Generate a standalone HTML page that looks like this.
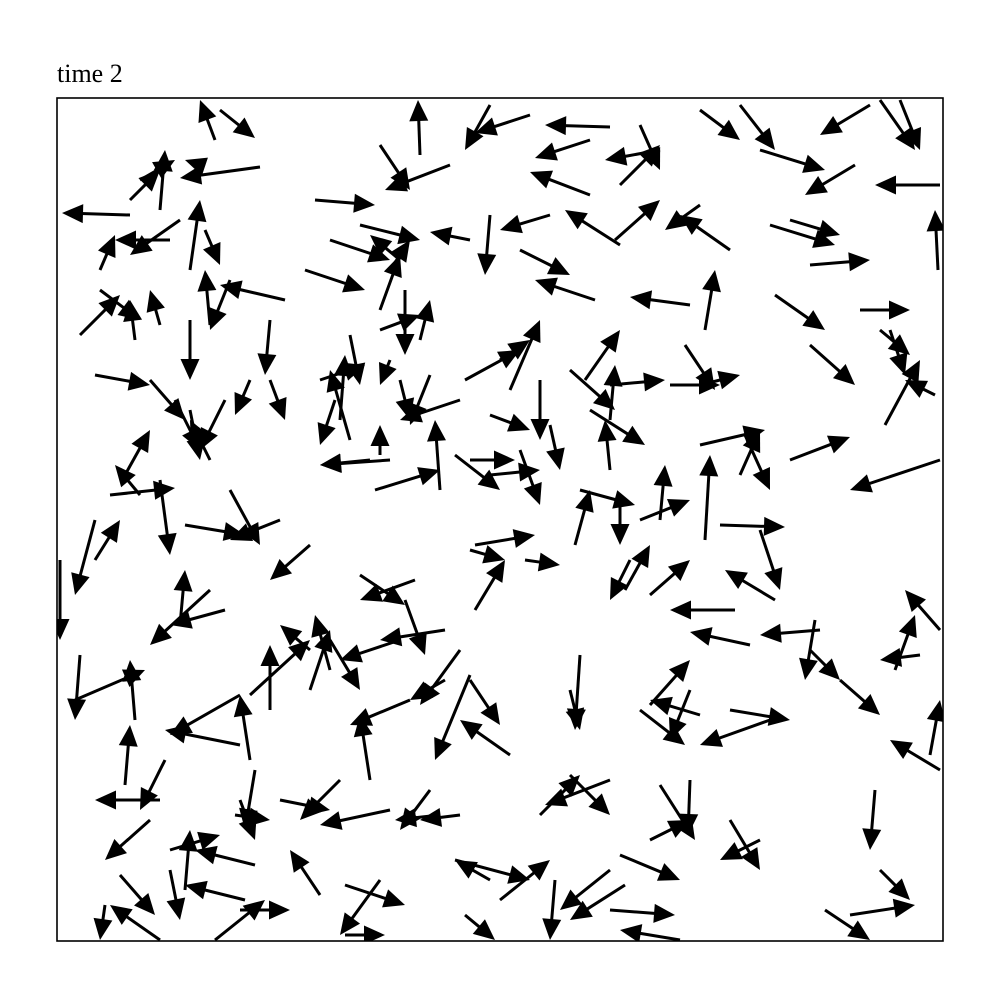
<!DOCTYPE html>
<html>
<head>
<meta charset="utf-8">
<style>
  html,body{margin:0;padding:0;background:#fff;}
  svg{display:block;}
  text{font-family:"Liberation Serif",serif;}
</style>
</head>
<body>
<svg id="chart" width="1000" height="1000" viewBox="0 0 1000 1000">
  <rect x="0" y="0" width="1000" height="1000" fill="#fff"/>
  <text x="57" y="82" font-size="26" fill="#000">time 2</text>
  <g id="arrows"></g>
  <rect x="57" y="98" width="886" height="843" fill="none" stroke="#000" stroke-width="1.6"/>
</svg>
<script>
const tailX=[130,260,215,220,380,450,420,490,530,610,590,590,660,640,620,700,740,760,870,880,900,855,940,938,315,360,330,305,490,550,620,615,700,730,770,790,595,520,470,690,705,775,810,860,810,880,890,885,935,940,790,700,745,720,760,775,735,750,820,815,840,810,920,940,895,930,940,875,880,850,825,760,730,690,650,620,660,770,730,640,700,690,650,580,570,510,470,470,460,410,445,370,330,400,445,405,360,415,330,310,270,250,310,240,250,240,210,180,225,310,280,230,185,160,140,125,110,95,60,80,75,135,125,165,160,150,185,170,255,245,240,215,120,105,160,170,320,345,345,380,455,500,490,465,555,610,625,610,680,540,570,610,440,460,430,390,340,280,255,235,240,470,475,525,475,575,620,630,650,625,580,640,660,705,740,610,590,570,610,585,610,685,700,670,540,490,465,510,500,470,455,520,550,490,440,375,370,380,460,430,390,335,350,340,350,320,390,400,380,420,405,380,400,390,270,250,270,285,230,210,190,160,135,100,80,95,150,175,190,225,210,170,180,100,190,160,140,130,200,95,205];
const tailY=[215,167,140,110,145,165,155,105,115,127,140,195,150,125,185,110,105,150,105,100,100,165,185,270,200,225,240,270,215,215,245,240,205,250,225,220,300,250,240,305,330,295,345,310,265,330,330,425,395,460,460,445,435,525,530,600,610,645,630,620,680,650,655,630,670,755,770,790,870,915,910,840,820,780,840,855,785,720,710,710,715,690,705,655,690,755,680,675,650,700,680,780,640,640,630,600,575,580,670,650,710,695,690,695,760,745,590,625,610,545,520,490,525,480,495,475,495,520,560,655,700,720,785,760,800,820,890,850,865,900,910,940,875,905,940,870,895,885,935,880,860,900,880,915,880,870,885,910,940,815,775,780,815,815,790,810,780,800,770,815,800,550,610,560,545,545,495,560,595,590,490,520,520,540,475,470,410,370,385,380,420,345,385,385,380,415,380,390,360,460,455,450,425,475,490,490,460,455,400,375,460,400,440,420,335,380,360,380,330,340,290,310,260,270,320,380,380,300,280,325,320,325,340,290,335,375,380,400,410,400,460,240,220,270,270,210,180,200,165,560,230];
const tipX=[62,180,200,255,410,385,418,465,475,545,535,530,605,660,660,740,775,825,820,915,920,805,875,935,375,420,390,365,485,500,565,660,665,680,835,840,535,570,430,630,715,825,855,910,870,910,905,920,905,850,850,765,770,785,780,725,670,690,760,805,880,840,880,905,915,940,890,870,910,915,870,720,760,688,690,680,695,700,790,685,650,670,690,575,580,460,500,435,420,350,410,360,360,340,380,425,405,360,315,280,270,310,330,170,240,165,150,185,170,270,230,260,245,170,115,150,175,75,60,75,145,130,130,140,95,105,190,220,195,185,290,265,155,100,110,180,290,405,385,340,530,550,455,495,550,560,570,675,620,580,610,545,395,420,400,320,300,330,245,270,255,505,505,560,535,590,620,610,690,650,635,690,665,710,760,605,645,615,665,620,615,715,740,720,540,530,520,540,530,515,500,540,560,540,435,440,320,380,400,410,320,320,330,345,360,365,380,410,420,430,405,400,370,410,265,235,285,220,210,205,190,150,130,140,120,150,185,200,200,200,190,115,130,115,200,165,175,160,185,120,220];
const tipY=[213,178,100,138,190,190,100,150,133,125,158,172,160,170,145,140,150,170,135,150,150,195,185,210,205,240,260,290,275,230,210,200,230,215,245,235,280,275,232,297,270,330,385,310,260,355,375,360,380,490,437,430,490,527,590,570,610,632,635,680,715,680,660,590,615,700,740,850,900,905,940,860,870,835,820,880,840,745,720,745,700,740,660,730,730,720,725,760,705,725,700,715,690,660,640,655,605,600,615,625,645,640,630,735,695,730,645,570,625,580,540,545,535,555,465,430,488,595,640,720,670,660,725,810,800,860,830,835,850,885,910,900,915,940,905,920,850,905,935,935,880,860,860,940,940,910,920,915,930,775,815,805,820,820,830,825,820,810,830,820,840,560,560,565,535,490,545,600,560,545,505,500,465,455,430,420,445,410,380,330,365,390,375,385,440,430,350,320,340,460,490,505,470,470,420,470,465,425,420,425,465,445,370,355,385,365,385,420,315,300,355,255,235,240,375,415,420,285,330,270,380,290,300,320,295,385,420,450,460,450,420,240,255,235,200,150,160,170,160,520,265];

const plotLeft=57, plotRight=943, plotTop=98, plotBottom=941;
const xDomain=[57,943], yDomain=[98,941];
function xScale(v){return plotLeft+(v-xDomain[0])/(xDomain[1]-xDomain[0])*(plotRight-plotLeft);}
function yScale(v){return plotTop+(v-yDomain[0])/(yDomain[1]-yDomain[0])*(plotBottom-plotTop);}

const NS="http://www.w3.org/2000/svg";
const layer=document.getElementById('arrows');
const clip=document.createElementNS(NS,'clipPath');
clip.setAttribute('id','plotclip');
const cr=document.createElementNS(NS,'rect');
cr.setAttribute('x',plotLeft);cr.setAttribute('y',plotTop);
cr.setAttribute('width',plotRight-plotLeft);cr.setAttribute('height',plotBottom-plotTop);
clip.appendChild(cr);
document.getElementById('chart').appendChild(clip);
layer.setAttribute('clip-path','url(#plotclip)');

const headLen=21, headHalf=9.5;
for(let i=0;i<tailX.length;i++){
  const x0=xScale(tailX[i]), y0=yScale(tailY[i]);
  const x1=xScale(tipX[i]), y1=yScale(tipY[i]);
  const dx=x1-x0, dy=y1-y0, L=Math.hypot(dx,dy)||1;
  const ux=dx/L, uy=dy/L;
  const bx=x1-ux*headLen, by=y1-uy*headLen;
  const g=document.createElementNS(NS,'g');
  
  
  const ln=document.createElementNS(NS,'line');
  ln.setAttribute('x1',x0);ln.setAttribute('y1',y0);
  ln.setAttribute('x2',bx+ux*2);ln.setAttribute('y2',by+uy*2);
  ln.setAttribute('stroke','#000');ln.setAttribute('stroke-width','3');
  
  
  const p=document.createElementNS(NS,'polygon');
  p.setAttribute('points',x1+','+y1+' '+(bx-uy*headHalf)+','+(by+ux*headHalf)+' '+(bx+uy*headHalf)+','+(by-ux*headHalf));
  p.setAttribute('fill','#000');
  
  
  g.appendChild(ln);g.appendChild(p);
  layer.appendChild(g);
}
</script>
</body>
</html>
